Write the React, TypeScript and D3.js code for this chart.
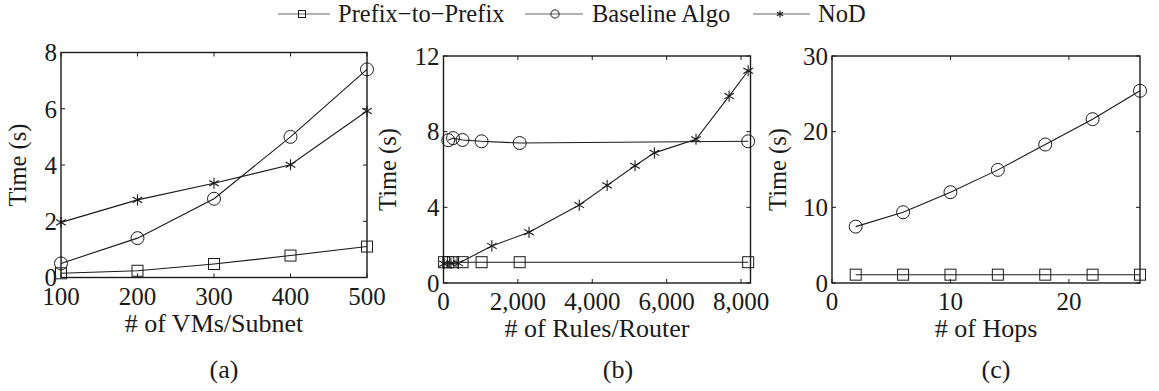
import React from "react";
import * as d3 from "d3";

// panel (a): time vs # of VMs per subnet
const vmsX = [100, 200, 300, 400, 500];
const vmsPrefix = [0.15, 0.24, 0.48, 0.78, 1.1];
const vmsBaseline = [0.5, 1.4, 2.8, 5.0, 7.4];
const vmsNoD = [1.96, 2.76, 3.35, 4.01, 5.92];

// panel (b): time vs # of rules per router
const rulesPrefixX = [16, 128, 256, 512, 1024, 2048, 8192];
const rulesPrefix = [1.1, 1.1, 1.1, 1.1, 1.1, 1.1, 1.1];
const rulesBaselineX = [128, 256, 512, 1024, 2048, 8192];
const rulesBaseline = [7.55, 7.66, 7.56, 7.49, 7.4, 7.49];
const rulesNoDX = [16, 200, 400, 1300, 2300, 3650, 4400, 5150, 5670, 6790, 7680, 8192];
const rulesNoD = [1.02, 1.03, 1.04, 1.96, 2.68, 4.12, 5.16, 6.2, 6.88, 7.6, 9.88, 11.22];

// panel (c): time vs # of hops
const hopsX = [2, 6, 10, 14, 18, 22, 26];
const hopsPrefix = [1.1, 1.1, 1.1, 1.1, 1.1, 1.1, 1.1];
const hopsBaseline = [7.45, 9.35, 12.0, 14.95, 18.3, 21.65, 25.4];

const legendNames = ["Prefix\u2212to\u2212Prefix", "Baseline Algo", "NoD"];

const FONT = "'Liberation Serif', 'Times New Roman', serif";
const INK = "#1a1a1a";

type Marker = "square" | "circle" | "star";

function MarkerShape({ kind, x, y, s }: { kind: Marker; x: number; y: number; s: number }) {
  if (kind === "square")
    return <rect x={x - s} y={y - s} width={2 * s} height={2 * s} fill="none" stroke={INK} strokeWidth={1} />;
  if (kind === "circle")
    return <circle cx={x} cy={y} r={s * 1.18} fill="none" stroke={INK} strokeWidth={1} />;
  const path = d3.symbol(d3.symbolAsterisk, (s * 1.7) * (s * 1.7))();
  return <path d={path || ""} transform={`translate(${x},${y})`} fill="none" stroke={INK} strokeWidth={1.1} />;
}

type Series = { xs: number[]; ys: number[]; marker: Marker };

function Panel(props: {
  left: number; right: number; top: number; bottom: number;
  xDomain: [number, number]; yDomain: [number, number];
  xTicks: number[]; yTicks: number[];
  xFmt: (v: number) => string;
  xLabel: string; yLabelX: number;
  caption: string; captionX: number;
  series: Series[];
}) {
  const { left, right, top, bottom } = props;
  const x = d3.scaleLinear().domain(props.xDomain).range([left, right]);
  const y = d3.scaleLinear().domain(props.yDomain).range([bottom, top]);
  const tk = 4;
  const line = d3.line<[number, number]>().x(d => x(d[0])).y(d => y(d[1]));
  return (
    <g>
      {props.series.map((s, i) => {
        const pts = s.xs.map((v, j) => [v, s.ys[j]] as [number, number]);
        return (
          <g key={i}>
            <path d={line(pts) || ""} fill="none" stroke={INK} strokeWidth={1.1} />
            {pts.map((p, j) => (
              <MarkerShape key={j} kind={s.marker} x={x(p[0])} y={y(p[1])} s={5.5} />
            ))}
          </g>
        );
      })}
      <rect x={left} y={top} width={right - left} height={bottom - top} fill="none" stroke={INK} strokeWidth={1.4} />
      {props.xTicks.map(t => (
        <g key={"x" + t}>
          <line x1={x(t)} x2={x(t)} y1={bottom} y2={bottom - tk} stroke={INK} />
          <line x1={x(t)} x2={x(t)} y1={top} y2={top + tk} stroke={INK} />
          <text x={x(t)} y={bottom + 27} textAnchor="middle" fontSize={25} fontFamily={FONT} fill={INK}>
            {props.xFmt(t)}
          </text>
        </g>
      ))}
      {props.yTicks.map(t => (
        <g key={"y" + t}>
          <line x1={left} x2={left + tk} y1={y(t)} y2={y(t)} stroke={INK} />
          <line x1={right} x2={right - tk} y1={y(t)} y2={y(t)} stroke={INK} />
          <text x={left - 4} y={y(t)} dy="0.35em" textAnchor="end" fontSize={25} fontFamily={FONT} fill={INK}>
            {t}
          </text>
        </g>
      ))}
      <text x={(left + right) / 2} y={bottom + 54} textAnchor="middle" fontSize={26} fontFamily={FONT} fill={INK}>
        {props.xLabel}
      </text>
      <text
        transform={`translate(${props.yLabelX},${(top + bottom) / 2}) rotate(-90)`}
        textAnchor="middle" fontSize={24.5} fontFamily={FONT} fill={INK}
      >
        Time (s)
      </text>
      <text x={props.captionX} y={378} textAnchor="middle" fontSize={26} fontFamily={FONT} fill={INK}>
        {props.caption}
      </text>
    </g>
  );
}

export default function App() {
  const legend = [
    { x1: 278, x2: 330, mx: 302, tx: 338, marker: "square" as Marker },
    { x1: 525, x2: 583, mx: 555, tx: 592, marker: "circle" as Marker },
    { x1: 753, x2: 810, mx: 780, tx: 818, marker: "star" as Marker },
  ];
  const comma = d3.format(",");
  return (
    <svg width={1159} height={391} style={{ position: "absolute", left: 0, top: 0, background: "#fff" }}>
      {legend.map((l, i) => (
        <g key={i}>
          <line x1={l.x1} x2={l.x2} y1={14} y2={14} stroke="#666" strokeWidth={1.2} />
          <MarkerShape kind={l.marker} x={l.mx} y={14} s={3.5} />
          <text x={l.tx} y={22} fontSize={24.5} fontFamily={FONT} fill={INK}>{legendNames[i]}</text>
        </g>
      ))}
      <Panel
        left={61} right={367} top={52.5} bottom={277.5}
        xDomain={[100, 500]} yDomain={[0, 8]}
        xTicks={[100, 200, 300, 400, 500]} yTicks={[0, 2, 4, 6, 8]}
        xFmt={v => String(v)}
        xLabel="# of VMs/Subnet" yLabelX={26}
        caption="(a)" captionX={224}
        series={[
          { xs: vmsX, ys: vmsPrefix, marker: "square" },
          { xs: vmsX, ys: vmsBaseline, marker: "circle" },
          { xs: vmsX, ys: vmsNoD, marker: "star" },
        ]}
      />
      <Panel
        left={443.5} right={750.5} top={56} bottom={283}
        xDomain={[0, 8255]} yDomain={[0, 12]}
        xTicks={[0, 2000, 4000, 6000, 8000]} yTicks={[0, 4, 8, 12]}
        xFmt={v => comma(v)}
        xLabel="# of Rules/Router" yLabelX={396}
        caption="(b)" captionX={618}
        series={[
          { xs: rulesPrefixX, ys: rulesPrefix, marker: "square" },
          { xs: rulesBaselineX, ys: rulesBaseline, marker: "circle" },
          { xs: rulesNoDX, ys: rulesNoD, marker: "star" },
        ]}
      />
      <Panel
        left={832} right={1140} top={56} bottom={283}
        xDomain={[0, 26]} yDomain={[0, 30]}
        xTicks={[0, 10, 20]} yTicks={[0, 10, 20, 30]}
        xFmt={v => String(v)}
        xLabel="# of Hops" yLabelX={786}
        caption="(c)" captionX={996}
        series={[
          { xs: hopsX, ys: hopsPrefix, marker: "square" },
          { xs: hopsX, ys: hopsBaseline, marker: "circle" },
        ]}
      />
    </svg>
  );
}
